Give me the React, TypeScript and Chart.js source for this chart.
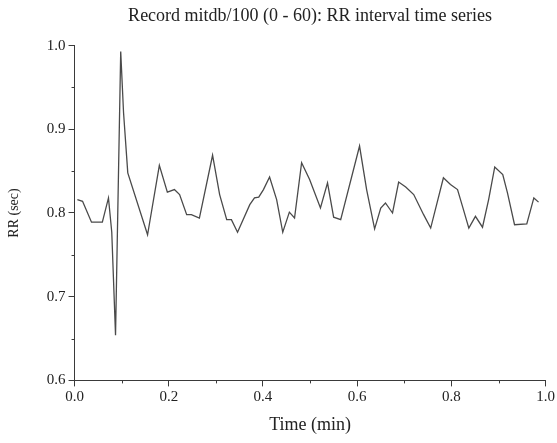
import React, { useEffect, useRef } from "react";
import { Chart, registerables } from "chart.js";

Chart.register(...registerables);

const TITLE = "Record mitdb/100 (0 - 60): RR interval time series";
const X_TITLE = "Time (min)";
const Y_TITLE = "RR (sec)";

// time (min) of each visible vertex
const times = [
  0.006, 0.017, 0.036, 0.059, 0.072, 0.079, 0.087, 0.098, 0.104, 0.113,
  0.155, 0.180, 0.197, 0.212, 0.223, 0.238, 0.248, 0.265, 0.293, 0.308,
  0.323, 0.333, 0.346, 0.372, 0.382, 0.391, 0.401, 0.414, 0.429, 0.442,
  0.456, 0.467, 0.482, 0.499, 0.522, 0.537, 0.550, 0.565, 0.605, 0.620,
  0.637, 0.650, 0.660, 0.675, 0.688, 0.703, 0.720, 0.741, 0.756, 0.783,
  0.798, 0.813, 0.824, 0.837, 0.851, 0.866, 0.879, 0.892, 0.909, 0.919,
  0.934, 0.960, 0.975, 0.985,
];
// RR interval (sec)
const rr = [
  0.816, 0.814, 0.789, 0.789, 0.818, 0.777, 0.654, 0.993, 0.920, 0.848,
  0.774, 0.857, 0.825, 0.828, 0.822, 0.798, 0.798, 0.794, 0.869, 0.822,
  0.792, 0.792, 0.777, 0.810, 0.818, 0.819, 0.828, 0.843, 0.816, 0.777,
  0.801, 0.794, 0.860, 0.840, 0.806, 0.836, 0.795, 0.792, 0.880, 0.828,
  0.781, 0.806, 0.812, 0.800, 0.837, 0.831, 0.822, 0.798, 0.782, 0.842,
  0.834, 0.828, 0.807, 0.782, 0.796, 0.783, 0.816, 0.855, 0.846, 0.824,
  0.786, 0.787, 0.818, 0.813,
];

const xMinorTicks = [0.1, 0.3, 0.5, 0.7, 0.9];
const yMinorTicks = [0.65, 0.75, 0.85, 0.95];

const FONT = "'Liberation Serif', 'Times New Roman', serif";
const AXIS = "#3a3a3a";
const TEXT = "#222";

const minorTickPlugin = {
  id: "minorTicks",
  afterDraw(chart: any) {
    const { ctx, scales } = chart;
    const xs = scales.x;
    const ys = scales.y;
    ctx.save();
    ctx.strokeStyle = AXIS;
    ctx.lineWidth = 1;
    ctx.beginPath();
    xMinorTicks.forEach((v) => {
      const px = Math.round(xs.getPixelForValue(v)) + 0.5;
      ctx.moveTo(px, ys.bottom);
      ctx.lineTo(px, ys.bottom + 3);
    });
    yMinorTicks.forEach((v) => {
      const py = Math.round(ys.getPixelForValue(v)) + 0.5;
      ctx.moveTo(xs.left - 3, py);
      ctx.lineTo(xs.left, py);
    });
    ctx.stroke();
    ctx.restore();
  },
};

export default function App() {
  const ref = useRef<HTMLCanvasElement | null>(null);
  useEffect(() => {
    if (!ref.current) return;
    const chart = new Chart(ref.current, {
      type: "line",
      data: {
        datasets: [
          {
            data: times.map((t, i) => ({ x: t, y: rr[i] })),
            borderColor: "#4a4a4a",
            borderWidth: 1.3,
            pointRadius: 0,
            tension: 0,
            fill: false,
          },
        ],
      },
      plugins: [minorTickPlugin],
      options: {
        animation: false,
        responsive: false,
        layout: { padding: { left: 6, right: 0, top: 4, bottom: 7 } },
        plugins: {
          legend: { display: false },
          tooltip: { enabled: false },
          title: {
            display: true,
            text: TITLE,
            fullSize: false,
            color: TEXT,
            font: { family: FONT, size: 18, weight: "normal" },
            padding: { top: 1, bottom: 19 },
          },
        },
        scales: {
          x: {
            type: "linear",
            min: 0,
            max: 1,
            ticks: {
              stepSize: 0.2,
              color: TEXT,
              font: { family: FONT, size: 15 },
              padding: 2,
              maxRotation: 0,
              callback: (v: any) => Number(v).toFixed(1),
            },
            grid: { drawOnChartArea: false, drawTicks: true, tickLength: 6, color: AXIS },
            border: { color: AXIS, width: 1 },
            title: {
              display: true,
              text: X_TITLE,
              color: TEXT,
              font: { family: FONT, size: 18 },
              padding: { top: 6, bottom: 0 },
            },
          },
          y: {
            min: 0.6,
            max: 1.0,
            ticks: {
              stepSize: 0.1,
              color: TEXT,
              font: { family: FONT, size: 15 },
              padding: 3,
              callback: (v: any) => Number(v).toFixed(1),
            },
            grid: { drawOnChartArea: false, drawTicks: true, tickLength: 6, color: AXIS },
            border: { color: AXIS, width: 1 },
            title: {
              display: true,
              text: Y_TITLE,
              color: TEXT,
              font: { family: FONT, size: 14 },
              padding: { top: 0, bottom: 21 },
            },
          },
        },
      },
    });
    return () => chart.destroy();
  }, []);
  return (
    <div style={{ position: "absolute", left: 0, top: 0, width: 557, height: 443, background: "#fff" }}>
      <canvas ref={ref} width={557} height={443} style={{ display: "block" }} />
    </div>
  );
}
